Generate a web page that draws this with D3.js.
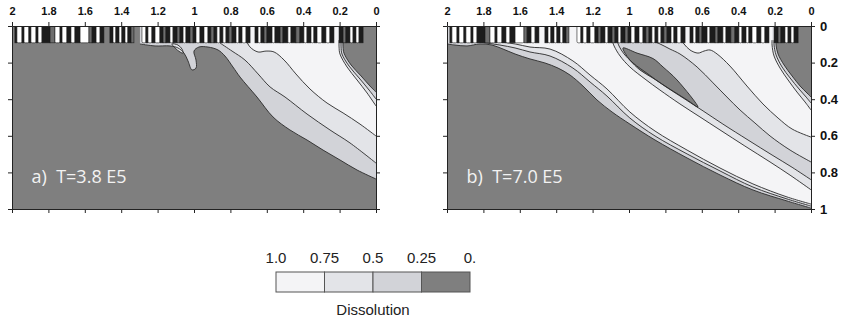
<!DOCTYPE html>
<html>
<head>
<meta charset="utf-8">
<script src="https://cdn.jsdelivr.net/npm/d3@7"></script>
<style>
  body { margin: 0; background: #fff; }
  svg { display: block; }
</style>
</head>
<body>
<div id="chart"></div>
<script>
// Ticks and legend
var xTicks = [2, 1.8, 1.6, 1.4, 1.2, 1, 0.8, 0.6, 0.4, 0.2, 0];
var yTicks = [0, 0.2, 0.4, 0.6, 0.8, 1];
var legendLabels = ['1.0', '0.75', '0.5', '0.25', '0.'];
var legendColors = ['#f4f4f6', '#e3e4e8', '#d2d3d8', '#7f7f7f'];
var panelLabels = ['a)  T=3.8 E5', 'b)  T=7.0 E5'];

// contour lines, points are [distance, depth]
// panel a
var a25 = [[1.297, 0.098], [1.214, 0.109], [1.132, 0.109], [1.088, 0.120], [1.055, 0.148], [1.033, 0.191],
  [1.011, 0.240], [0.989, 0.230], [0.989, 0.186], [1.000, 0.137], [0.973, 0.115], [0.923, 0.115],
  [0.868, 0.131], [0.830, 0.164], [0.786, 0.224], [0.747, 0.279], [0.654, 0.388], [0.566, 0.497],
  [0.473, 0.568], [0.379, 0.623], [0.291, 0.678], [0.198, 0.732], [0.104, 0.787], [0.000, 0.836]];
var a50 = [[0.857, 0.093], [0.791, 0.137], [0.720, 0.186], [0.648, 0.262], [0.582, 0.333], [0.500, 0.388],
  [0.379, 0.481], [0.253, 0.568], [0.143, 0.639], [0.000, 0.749]];
var a75 = [[0.714, 0.077], [0.692, 0.115], [0.648, 0.142], [0.604, 0.137], [0.560, 0.142], [0.505, 0.186],
  [0.440, 0.262], [0.363, 0.344], [0.269, 0.421], [0.181, 0.475], [0.088, 0.536], [0.000, 0.601]];
var aIsland = [[1.121, 0.098], [1.088, 0.104], [1.066, 0.126], [1.060, 0.148], [1.077, 0.142], [1.104, 0.120]];
var aR75 = [[0.203, 0.077], [0.203, 0.115], [0.198, 0.153], [0.159, 0.224], [0.104, 0.295], [0.049, 0.366], [0.000, 0.437]];
var aR50 = [[0.192, 0.077], [0.192, 0.115], [0.187, 0.153], [0.148, 0.219], [0.093, 0.284], [0.038, 0.350], [0.000, 0.399]];
var aR25 = [[0.181, 0.077], [0.181, 0.115], [0.176, 0.148], [0.137, 0.213], [0.082, 0.273], [0.033, 0.328], [0.000, 0.361]];

// panel b
var b25 = [[2.000, 0.098], [1.956, 0.104], [1.890, 0.109], [1.819, 0.098], [1.753, 0.104], [1.692, 0.126],
  [1.626, 0.153], [1.544, 0.180], [1.462, 0.202], [1.390, 0.230], [1.324, 0.268], [1.253, 0.328],
  [1.176, 0.404], [1.093, 0.470], [0.995, 0.536], [0.857, 0.623], [0.681, 0.721], [0.500, 0.814],
  [0.319, 0.896], [0.132, 0.956], [0.000, 0.995]];
var b50 = [[1.874, 0.082], [1.786, 0.093], [1.709, 0.104], [1.626, 0.120], [1.544, 0.142], [1.434, 0.164],
  [1.308, 0.230], [1.214, 0.306], [1.121, 0.383], [0.995, 0.503], [0.857, 0.601], [0.681, 0.699],
  [0.500, 0.792], [0.319, 0.880], [0.132, 0.945], [0.000, 0.984]];
var b75 = [[1.786, 0.077], [1.709, 0.087], [1.626, 0.098], [1.544, 0.115], [1.434, 0.126], [1.308, 0.191],
  [1.214, 0.268], [1.121, 0.344], [0.995, 0.470], [0.857, 0.574], [0.681, 0.678], [0.500, 0.776],
  [0.319, 0.863], [0.132, 0.934], [0.000, 0.973]];
var bC75low = [[1.093, 0.077], [1.082, 0.109], [1.049, 0.164], [0.995, 0.224], [0.912, 0.290], [0.830, 0.350],
  [0.720, 0.426], [0.610, 0.497], [0.500, 0.568], [0.363, 0.656], [0.225, 0.743], [0.115, 0.815], [0.000, 0.895]];
var bC50low = [[1.066, 0.077], [1.055, 0.109], [1.027, 0.153], [0.978, 0.202], [0.896, 0.262], [0.813, 0.322],
  [0.703, 0.393], [0.593, 0.464], [0.484, 0.536], [0.346, 0.623], [0.214, 0.705], [0.104, 0.772], [0.000, 0.840]];
var bC50up = [[0.912, 0.066], [0.885, 0.077], [0.830, 0.098], [0.775, 0.126], [0.720, 0.153], [0.626, 0.224],
  [0.538, 0.311], [0.462, 0.388], [0.390, 0.459], [0.308, 0.530], [0.225, 0.601], [0.115, 0.678], [0.000, 0.743]];
var bC75up = [[0.714, 0.077], [0.698, 0.098], [0.665, 0.131], [0.621, 0.148], [0.588, 0.137], [0.555, 0.131],
  [0.516, 0.153], [0.445, 0.219], [0.352, 0.328], [0.264, 0.426], [0.181, 0.503], [0.104, 0.563], [0.000, 0.607]];
var bLens = [[1.033, 0.120], [0.956, 0.148], [0.868, 0.178], [0.813, 0.224], [0.736, 0.295], [0.621, 0.443],
  [0.681, 0.404], [0.775, 0.345], [0.868, 0.285], [0.940, 0.240], [0.995, 0.186], [1.022, 0.148]];
var bR75 = [[0.214, 0.077], [0.214, 0.104], [0.203, 0.164], [0.170, 0.230], [0.126, 0.295], [0.077, 0.361], [0.033, 0.415], [0.000, 0.459]];
var bR50 = [[0.203, 0.077], [0.203, 0.104], [0.192, 0.158], [0.159, 0.224], [0.115, 0.284], [0.066, 0.344], [0.027, 0.388], [0.000, 0.421]];
var bR25 = [[0.192, 0.077], [0.192, 0.104], [0.181, 0.153], [0.148, 0.213], [0.104, 0.273], [0.060, 0.328], [0.022, 0.366], [0.000, 0.388]];

// fractured top layer: [from, to, tone]
var stripBars = [
  [1.984, 1.973, 'k'], [1.973, 1.945, 'w'], [1.945, 1.934, 'k'], [1.934, 1.907, 'w'], [1.907, 1.896, 'k'],
  [1.896, 1.868, 'w'], [1.868, 1.857, 'k'], [1.857, 1.835, 'w'], [1.835, 1.791, 'k'], [1.791, 1.764, 'g'],
  [1.764, 1.736, 'w'], [1.736, 1.725, 'k'], [1.725, 1.698, 'w'], [1.698, 1.676, 'k'], [1.676, 1.654, 'w'],
  [1.654, 1.626, 'k'], [1.626, 1.577, 'w'], [1.577, 1.560, 'g'], [1.560, 1.538, 'k'], [1.538, 1.516, 'w'],
  [1.516, 1.495, 'k'], [1.462, 1.445, 'k'], [1.445, 1.429, 'w'], [1.429, 1.412, 'k'], [1.412, 1.396, 'w'],
  [1.396, 1.379, 'k'], [1.379, 1.363, 'w'], [1.363, 1.346, 'k'], [1.346, 1.330, 'g'], [1.286, 1.264, 'w'],
  [1.264, 1.253, 'k'], [1.253, 1.231, 'w'], [1.231, 1.214, 'k'], [1.214, 1.187, 'w'], [1.187, 1.170, 'k'],
  [1.170, 1.154, 'g'], [1.154, 1.132, 'k'], [1.132, 1.115, 'w'], [1.115, 1.093, 'k'], [1.093, 1.077, 'g'],
  [1.077, 1.060, 'k'], [1.060, 1.044, 'w'], [1.044, 1.022, 'k'], [1.022, 1.005, 'g'], [1.005, 0.989, 'k'],
  [0.989, 0.967, 'w'], [0.967, 0.945, 'k'], [0.945, 0.923, 'w'], [0.923, 0.907, 'k'], [0.907, 0.890, 'g'],
  [0.890, 0.874, 'k'], [0.874, 0.857, 'w'], [0.857, 0.841, 'k'], [0.841, 0.824, 'w'], [0.824, 0.808, 'k'],
  [0.808, 0.791, 'g'], [0.791, 0.769, 'k'], [0.769, 0.753, 'w'], [0.753, 0.736, 'k'], [0.736, 0.714, 'w'],
  [0.714, 0.692, 'k'], [0.665, 0.648, 'k'], [0.648, 0.632, 'w'], [0.632, 0.615, 'k'], [0.615, 0.599, 'g'],
  [0.599, 0.571, 'k'], [0.571, 0.555, 'w'], [0.555, 0.527, 'k'], [0.527, 0.511, 'g'], [0.511, 0.484, 'k'],
  [0.484, 0.467, 'w'], [0.467, 0.440, 'k'], [0.440, 0.418, 'g'], [0.418, 0.396, 'k'], [0.396, 0.379, 'w'],
  [0.379, 0.357, 'k'], [0.357, 0.341, 'w'], [0.341, 0.324, 'k'], [0.324, 0.297, 'w'], [0.297, 0.275, 'k'],
  [0.275, 0.253, 'w'], [0.253, 0.231, 'k'], [0.203, 0.181, 'k'], [0.181, 0.165, 'g'], [0.165, 0.143, 'k'],
  [0.143, 0.126, 'w'], [0.126, 0.110, 'k'], [0.110, 0.093, 'w'], [0.093, 0.071, 'k']
];

// Create SVG Element
var chart_width = 841;
var chart_height = 324;
var svg = d3.select('#chart')
  .append('svg')
  .attr('width', chart_width)
  .attr('height', chart_height);

var F = { w: legendColors[0], e: legendColors[1], d: legendColors[2], k: legendColors[3] };
var toneColor = { k: '#1c1c1c', w: '#ffffff', g: '#6e6e6e' };
var lineColor = '#2a2a2a';
var stripDepth = 0.092;

var yScale = d3.scaleLinear().domain([0, 1]).range([26, 209]);

function makePanel(idx, left, regions, lines, closedLines, yLabels) {
  var xScale = d3.scaleLinear().domain([2, 0]).range([left, left + 364]);
  var line = d3.line()
    .x(function (d) { return xScale(d[0]); })
    .y(function (d) { return yScale(d[1]); })
    .curve(d3.curveCatmullRom.alpha(0.5));
  var closedLine = d3.line()
    .x(function (d) { return xScale(d[0]); })
    .y(function (d) { return yScale(d[1]); })
    .curve(d3.curveCatmullRomClosed.alpha(0.5));

  function topRegion(pts) {
    return 'M' + xScale(pts[0][0]) + ',' + yScale(0) +
      line(pts).replace(/^M/, 'L') +
      'L' + xScale(0) + ',' + yScale(0) + 'Z';
  }
  function bandRegion(lower, upper) {
    return 'M' + xScale(lower[0][0]) + ',' + yScale(0) +
      line(lower).replace(/^M/, 'L') +
      line(upper.slice().reverse()).replace(/^M/, 'L') +
      'L' + xScale(upper[0][0]) + ',' + yScale(0) + 'Z';
  }

  svg.append('clipPath').attr('id', 'clip' + idx)
    .append('rect')
    .attr('x', left).attr('y', yScale(0))
    .attr('width', 364).attr('height', yScale(1) - yScale(0));

  var g = svg.append('g').attr('clip-path', 'url(#clip' + idx + ')');

  g.append('rect')
    .attr('x', left).attr('y', yScale(0))
    .attr('width', 364).attr('height', yScale(1) - yScale(0))
    .attr('fill', F.k);

  regions.forEach(function (r) {
    var d;
    if (r.type === 'top') d = topRegion(r.pts);
    else if (r.type === 'band') d = bandRegion(r.pts, r.pts2);
    else d = closedLine(r.pts);
    g.append('path').attr('d', d).attr('fill', F[r.fill]).attr('stroke', 'none');
  });

  g.selectAll('path.cline')
    .data(lines)
    .enter()
    .append('path')
    .attr('class', 'cline')
    .attr('d', function (d) { return line(d); })
    .attr('fill', 'none')
    .attr('stroke', lineColor)
    .attr('stroke-width', 0.9);

  g.selectAll('path.cloop')
    .data(closedLines)
    .enter()
    .append('path')
    .attr('class', 'cloop')
    .attr('d', function (d) { return closedLine(d); })
    .attr('fill', 'none')
    .attr('stroke', lineColor)
    .attr('stroke-width', 0.9);

  // fractured top strip
  g.selectAll('rect.bar')
    .data(stripBars)
    .enter()
    .append('rect')
    .attr('class', 'bar')
    .attr('x', function (d) { return Math.min(xScale(d[0]), xScale(d[1])); })
    .attr('y', yScale(0) - 2)
    .attr('width', function (d) { return Math.abs(xScale(d[1]) - xScale(d[0])); })
    .attr('height', yScale(stripDepth) - yScale(0) + 2)
    .attr('rx', function (d) { return d[2] === 'w' ? 1.5 : 0; })
    .attr('fill', function (d) { return toneColor[d[2]]; })
    .attr('stroke', '#1c1c1c')
    .attr('stroke-width', 0.6);

  // axes
  var fmt = d3.format('~g');
  var axes = svg.append('g').attr('class', 'axes');
  axes.append('g')
    .attr('transform', 'translate(0,' + yScale(0) + ')')
    .call(d3.axisTop(xScale).tickValues(xTicks).tickSizeInner(4).tickSizeOuter(0).tickPadding(7).tickFormat(fmt));
  axes.append('g')
    .attr('transform', 'translate(0,' + yScale(1) + ')')
    .call(d3.axisBottom(xScale).tickValues(xTicks).tickSizeInner(4).tickSizeOuter(0).tickFormat(''));
  axes.append('g')
    .attr('transform', 'translate(' + left + ',0)')
    .call(d3.axisLeft(yScale).tickValues(yTicks).tickSizeInner(4).tickSizeOuter(0).tickFormat(''));
  var right = axes.append('g')
    .attr('class', 'right')
    .attr('transform', 'translate(' + (left + 364) + ',0)')
    .call(d3.axisRight(yScale).tickValues(yTicks).tickSizeInner(4).tickSizeOuter(0).tickPadding(5)
      .tickFormat(yLabels ? fmt : ''));

  axes.selectAll('text')
    .attr('font-family', '"Liberation Sans", Arial, sans-serif')
    .attr('font-size', 11)
    .attr('font-weight', 'bold')
    .attr('fill', '#111');
  right.selectAll('text').attr('font-size', 13);
  axes.selectAll('path.domain').attr('stroke', '#222');
  axes.selectAll('.tick line').attr('stroke', '#222');

  svg.append('text')
    .attr('x', left + 19.5)
    .attr('y', 183)
    .attr('font-family', '"Open Sans", sans-serif')
    .attr('font-size', 18)
    .attr('fill', '#f2f2f2')
    .style('white-space', 'pre')
    .text(panelLabels[idx]);
}

makePanel(0, 12,
  [
    { type: 'top', pts: a25, fill: 'd' },
    { type: 'top', pts: a50, fill: 'e' },
    { type: 'top', pts: a75, fill: 'w' },
    { type: 'closed', pts: aIsland, fill: 'e' },
    { type: 'top', pts: aR75, fill: 'e' },
    { type: 'top', pts: aR50, fill: 'd' },
    { type: 'top', pts: aR25, fill: 'k' }
  ],
  [a25, a50, a75, aR75, aR50, aR25],
  [aIsland],
  false);

makePanel(1, 447,
  [
    { type: 'top', pts: b25, fill: 'd' },
    { type: 'top', pts: b50, fill: 'e' },
    { type: 'top', pts: b75, fill: 'w' },
    { type: 'band', pts: bC75low, pts2: bC75up, fill: 'e' },
    { type: 'band', pts: bC50low, pts2: bC50up, fill: 'd' },
    { type: 'closed', pts: bLens, fill: 'k' },
    { type: 'top', pts: bR75, fill: 'e' },
    { type: 'top', pts: bR50, fill: 'd' },
    { type: 'top', pts: bR25, fill: 'k' }
  ],
  [b25, b50, b75, bC75low, bC50low, bC50up, bC75up, bR75, bR50, bR25],
  [bLens],
  true);

// Legend
var legendScale = d3.scaleLinear().domain([0, 4]).range([276, 470]);
var legend = svg.append('g');
legend.selectAll('rect')
  .data(legendColors)
  .enter()
  .append('rect')
  .attr('x', function (d, i) { return legendScale(i); })
  .attr('y', 272)
  .attr('width', legendScale(1) - legendScale(0))
  .attr('height', 20)
  .attr('fill', function (d) { return d; })
  .attr('stroke', '#555')
  .attr('stroke-width', 1);

legend.selectAll('text.lab')
  .data(legendLabels)
  .enter()
  .append('text')
  .attr('class', 'lab')
  .attr('x', function (d, i) { return legendScale(i); })
  .attr('y', 263)
  .attr('text-anchor', 'middle')
  .attr('font-family', '"Liberation Sans", Arial, sans-serif')
  .attr('font-size', 15)
  .attr('fill', '#222')
  .text(function (d) { return d; });

legend.append('text')
  .attr('x', legendScale(2))
  .attr('y', 315)
  .attr('text-anchor', 'middle')
  .attr('font-family', '"Liberation Sans", Arial, sans-serif')
  .attr('font-size', 15)
  .attr('fill', '#222')
  .text('Dissolution');
</script>
</body>
</html>
